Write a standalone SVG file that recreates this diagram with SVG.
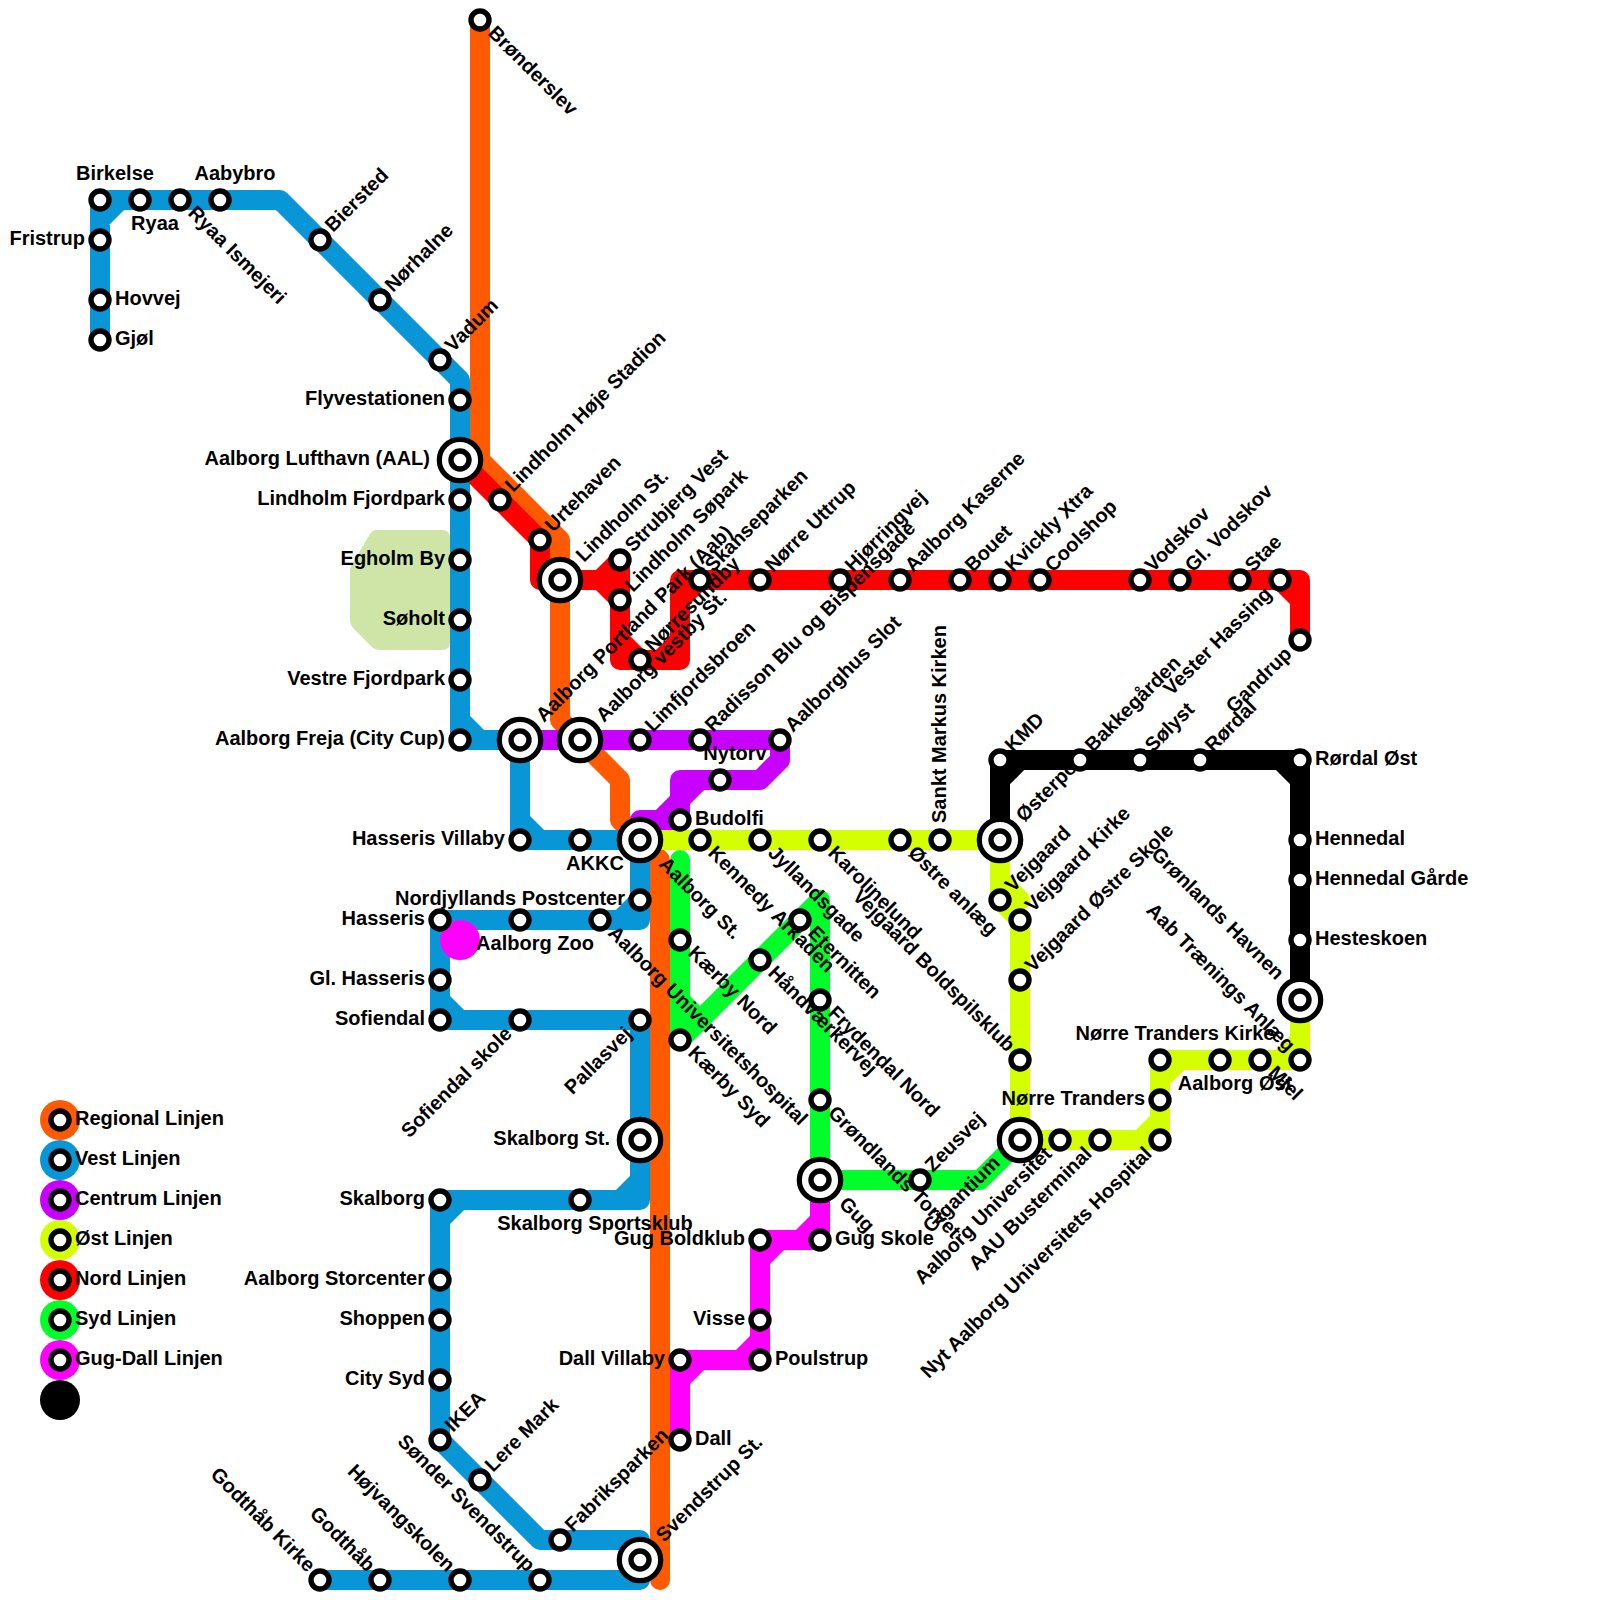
<svg xmlns="http://www.w3.org/2000/svg" width="1600" height="1600" viewBox="0 0 1600 1600">
<style>
text{font-family:"Liberation Sans",Arial,sans-serif;font-weight:bold;font-size:20px;fill:#000}
.e{text-anchor:end}.m{text-anchor:middle}
.s{fill:#fff;stroke:#000;stroke-width:5.4}
.b{fill:#fff;stroke:#000;stroke-width:5.2}
#connectors path{fill:none;stroke-width:20;stroke-linecap:round;stroke-linejoin:round}
</style>
<rect width="1600" height="1600" fill="#fff"/>
<path id="park" fill="#cfe4a7" d="M376 530H442Q450 530 450 538V642Q450 650 442 650H380Q375 650 371 646L354 629Q350 625 350 620V572Q350 566 354 561L370 534Q373 530 376 530Z"/>
<g id="connectors">
<path stroke="#ff5a00" d="M480 20V460L560 540V720L580 740L620 780V820L640 840L660 860V1580"/>
<path stroke="#0896d7" d="M100 340V200H280L460 380V740H520V840H640V920H440V1020H640V1200H440V1440L540 1540H640V1580H320M100 220L120 200M460 720L480 740M520 820L540 840M640 900L620 920M440 1000L460 1020M640 1180L620 1200M460 1200L440 1220"/>
<path stroke="#c800ff" d="M520 740H780V760L760 780H680V820H640V840M700 780L680 800L660 820"/>
<path stroke="#d4ff00" d="M640 840H1000V900L1020 920V1140H1160V1060H1300V1000M1000 880L1020 900M1140 1140L1160 1120M1160 1080L1180 1060M1280 1060L1300 1040"/>
<path stroke="#ff0000" d="M1300 640V580H680V660H620V560L600 580H540V540L460 460M600 580L620 600M1280 580L1300 600M700 580L680 600M680 640L660 660M620 640L640 660"/>
<path stroke="#00ff2a" d="M680 860V1040L820 900V1180H980L1020 1140M680 1000L700 1020"/>
<path stroke="#ff00ff" d="M820 1180V1240H760V1360H680V1440M820 1220L800 1240M780 1240L760 1260M760 1340L740 1360M700 1360L680 1380"/>
<path stroke="#000" d="M1000 840V760H1300V1000M1020 760L1000 780M1280 760L1300 780"/>
</g>
<circle id="dot" cx="460" cy="940" r="20" fill="#ff00ff"/>
<g id="legend">
<g id="lg1"><circle cx="60" cy="1120" r="20" fill="#ff5a00"/><circle class="s" cx="60" cy="1120" r="9"/><text x="75" y="1125">Regional Linjen</text></g>
<g id="lg2"><circle cx="60" cy="1160" r="20" fill="#0896d7"/><circle class="s" cx="60" cy="1160" r="9"/><text x="75" y="1165">Vest Linjen</text></g>
<g id="lg3"><circle cx="60" cy="1200" r="20" fill="#c800ff"/><circle class="s" cx="60" cy="1200" r="9"/><text x="75" y="1205">Centrum Linjen</text></g>
<g id="lg4"><circle cx="60" cy="1240" r="20" fill="#d4ff00"/><circle class="s" cx="60" cy="1240" r="9"/><text x="75" y="1245">Øst Linjen</text></g>
<g id="lg5"><circle cx="60" cy="1280" r="20" fill="#ff0000"/><circle class="s" cx="60" cy="1280" r="9"/><text x="75" y="1285">Nord Linjen</text></g>
<g id="lg6"><circle cx="60" cy="1320" r="20" fill="#00ff2a"/><circle class="s" cx="60" cy="1320" r="9"/><text x="75" y="1325">Syd Linjen</text></g>
<g id="lg7"><circle cx="60" cy="1360" r="20" fill="#ff00ff"/><circle class="s" cx="60" cy="1360" r="9"/><text x="75" y="1365">Gug-Dall Linjen</text></g>
<g id="lg8"><circle cx="60" cy="1400" r="20" fill="#000"/></g>
</g>
<g id="stations">
<g id="n1"><circle class="s" cx="480" cy="20" r="9"/><text x="487" y="34" transform="rotate(45 487 34)">Brønderslev</text></g>
<g id="n2"><circle class="s" cx="100" cy="200" r="9"/><text class="m" x="115" y="180">Birkelse</text></g>
<g id="n3"><circle class="s" cx="140" cy="200" r="9"/><text class="m" x="155" y="230">Ryaa</text></g>
<g id="n4"><circle class="s" cx="180" cy="200" r="9"/><text x="187" y="214" transform="rotate(45 187 214)">Ryaa Ismejeri</text></g>
<g id="n5"><circle class="s" cx="220" cy="200" r="9"/><text class="m" x="235" y="180">Aabybro</text></g>
<g id="n6"><circle class="s" cx="100" cy="240" r="9"/><text class="e" x="85" y="245">Fristrup</text></g>
<g id="n7"><circle class="s" cx="100" cy="300" r="9"/><text x="115" y="305">Hovvej</text></g>
<g id="n8"><circle class="s" cx="100" cy="340" r="9"/><text x="115" y="345">Gjøl</text></g>
<g id="n9"><circle class="s" cx="320" cy="240" r="9"/><text x="333" y="233" transform="rotate(-45 333 233)">Biersted</text></g>
<g id="n10"><circle class="s" cx="380" cy="300" r="9"/><text x="393" y="293" transform="rotate(-45 393 293)">Nørhalne</text></g>
<g id="n11"><circle class="s" cx="440" cy="360" r="9"/><text x="453" y="353" transform="rotate(-45 453 353)">Vadum</text></g>
<g id="n12"><circle class="s" cx="460" cy="400" r="9"/><text class="e" x="445" y="405">Flyvestationen</text></g>
<g id="n13"><circle class="b" cx="460" cy="460" r="20.7"/><circle class="s" cx="460" cy="460" r="9"/><text class="e" x="430" y="465">Aalborg Lufthavn (AAL)</text></g>
<g id="n14"><circle class="s" cx="460" cy="500" r="9"/><text class="e" x="445" y="505">Lindholm Fjordpark</text></g>
<g id="n15"><circle class="s" cx="460" cy="560" r="9"/><text class="e" x="445" y="565">Egholm By</text></g>
<g id="n16"><circle class="s" cx="460" cy="620" r="9"/><text class="e" x="445" y="625">Søholt</text></g>
<g id="n17"><circle class="s" cx="460" cy="680" r="9"/><text class="e" x="445" y="685">Vestre Fjordpark</text></g>
<g id="n18"><circle class="s" cx="460" cy="740" r="9"/><text class="e" x="445" y="745">Aalborg Freja (City Cup)</text></g>
<g id="n19"><circle class="s" cx="500" cy="500" r="9"/><text x="513" y="493" transform="rotate(-45 513 493)">Lindholm Høje Stadion</text></g>
<g id="n20"><circle class="s" cx="540" cy="540" r="9"/><text x="553" y="533" transform="rotate(-45 553 533)">Urtehaven</text></g>
<g id="n21"><circle class="b" cx="560" cy="580" r="20.7"/><circle class="s" cx="560" cy="580" r="9"/><text x="584" y="563" transform="rotate(-45 584 563)">Lindholm St.</text></g>
<g id="n22"><circle class="s" cx="620" cy="560" r="9"/><text x="633" y="553" transform="rotate(-45 633 553)">Strubjerg Vest</text></g>
<g id="n23"><circle class="s" cx="620" cy="600" r="9"/><text x="633" y="593" transform="rotate(-45 633 593)">Lindholm Søpark</text></g>
<g id="n24"><circle class="s" cx="640" cy="660" r="9"/><text x="653" y="653" transform="rotate(-45 653 653)">Nørresundby</text></g>
<g id="n25"><circle class="s" cx="700" cy="580" r="9"/><text x="713" y="573" transform="rotate(-45 713 573)">Skanseparken</text></g>
<g id="n26"><circle class="s" cx="760" cy="580" r="9"/><text x="773" y="573" transform="rotate(-45 773 573)">Nørre Uttrup</text></g>
<g id="n27"><circle class="s" cx="840" cy="580" r="9"/><text x="853" y="573" transform="rotate(-45 853 573)">Hjørringvej</text></g>
<g id="n28"><circle class="s" cx="900" cy="580" r="9"/><text x="913" y="573" transform="rotate(-45 913 573)">Aalborg Kaserne</text></g>
<g id="n29"><circle class="s" cx="960" cy="580" r="9"/><text x="973" y="573" transform="rotate(-45 973 573)">Bouet</text></g>
<g id="n30"><circle class="s" cx="1000" cy="580" r="9"/><text x="1013" y="573" transform="rotate(-45 1013 573)">Kvickly Xtra</text></g>
<g id="n31"><circle class="s" cx="1040" cy="580" r="9"/><text x="1053" y="573" transform="rotate(-45 1053 573)">Coolshop</text></g>
<g id="n32"><circle class="s" cx="1140" cy="580" r="9"/><text x="1153" y="573" transform="rotate(-45 1153 573)">Vodskov</text></g>
<g id="n33"><circle class="s" cx="1180" cy="580" r="9"/><text x="1193" y="573" transform="rotate(-45 1193 573)">Gl. Vodskov</text></g>
<g id="n34"><circle class="s" cx="1240" cy="580" r="9"/><text x="1253" y="573" transform="rotate(-45 1253 573)">Stae</text></g>
<g id="n35"><circle class="s" cx="1280" cy="580" r="9"/><text class="e" x="1273" y="595" transform="rotate(-45 1273 595)">Vester Hassing</text></g>
<g id="n36"><circle class="s" cx="1300" cy="640" r="9"/><text class="e" x="1293" y="655" transform="rotate(-45 1293 655)">Gandrup</text></g>
<g id="n37"><circle class="b" cx="520" cy="740" r="20.7"/><circle class="s" cx="520" cy="740" r="9"/><text x="544" y="723" transform="rotate(-45 544 723)">Aalborg Portland Park (Aab)</text></g>
<g id="n38"><circle class="b" cx="580" cy="740" r="20.7"/><circle class="s" cx="580" cy="740" r="9"/><text x="604" y="723" transform="rotate(-45 604 723)">Aalborg vestby St.</text></g>
<g id="n39"><circle class="s" cx="640" cy="740" r="9"/><text x="653" y="733" transform="rotate(-45 653 733)">Limfjordsbroen</text></g>
<g id="n40"><circle class="s" cx="700" cy="740" r="9"/><text x="713" y="733" transform="rotate(-45 713 733)">Radisson Blu og Bispensgade</text></g>
<g id="n41"><circle class="s" cx="780" cy="740" r="9"/><text x="793" y="733" transform="rotate(-45 793 733)">Aalborghus Slot</text></g>
<g id="n42"><circle class="s" cx="720" cy="780" r="9"/><text class="m" x="735" y="760">Nytorv</text></g>
<g id="n43"><circle class="s" cx="680" cy="820" r="9"/><text x="695" y="825">Budolfi</text></g>
<g id="n44"><circle class="s" cx="520" cy="840" r="9"/><text class="e" x="505" y="845">Hasseris Villaby</text></g>
<g id="n45"><circle class="s" cx="580" cy="840" r="9"/><text class="m" x="595" y="870">AKKC</text></g>
<g id="n46"><circle class="b" cx="640" cy="840" r="20.7"/><circle class="s" cx="640" cy="840" r="9"/><text x="658" y="865" transform="rotate(45 658 865)">Aalborg St.</text></g>
<g id="n47"><circle class="s" cx="700" cy="840" r="9"/><text x="707" y="854" transform="rotate(45 707 854)">Kennedy Arkaden</text></g>
<g id="n48"><circle class="s" cx="760" cy="840" r="9"/><text x="767" y="854" transform="rotate(45 767 854)">Jyllandsgade</text></g>
<g id="n49"><circle class="s" cx="820" cy="840" r="9"/><text x="827" y="854" transform="rotate(45 827 854)">Karolinelund</text></g>
<g id="n50"><circle class="s" cx="900" cy="840" r="9"/><text x="907" y="854" transform="rotate(45 907 854)">Østre anlæg</text></g>
<g id="n51"><circle class="s" cx="940" cy="840" r="9"/><text x="946" y="823" transform="rotate(-90 946 823)">Sankt Markus Kirken</text></g>
<g id="n52"><circle class="b" cx="1000" cy="840" r="20.7"/><circle class="s" cx="1000" cy="840" r="9"/><text x="1024" y="823" transform="rotate(-45 1024 823)">Østerport</text></g>
<g id="n53"><circle class="s" cx="1000" cy="760" r="9"/><text x="1013" y="753" transform="rotate(-45 1013 753)">KMD</text></g>
<g id="n54"><circle class="s" cx="1080" cy="760" r="9"/><text x="1093" y="753" transform="rotate(-45 1093 753)">Bakkegården</text></g>
<g id="n55"><circle class="s" cx="1140" cy="760" r="9"/><text x="1153" y="753" transform="rotate(-45 1153 753)">Sølyst</text></g>
<g id="n56"><circle class="s" cx="1200" cy="760" r="9"/><text x="1213" y="753" transform="rotate(-45 1213 753)">Rørdal</text></g>
<g id="n57"><circle class="s" cx="1300" cy="760" r="9"/><text x="1315" y="765">Rørdal Øst</text></g>
<g id="n58"><circle class="s" cx="1300" cy="840" r="9"/><text x="1315" y="845">Hennedal</text></g>
<g id="n59"><circle class="s" cx="1300" cy="880" r="9"/><text x="1315" y="885">Hennedal Gårde</text></g>
<g id="n60"><circle class="s" cx="1300" cy="940" r="9"/><text x="1315" y="945">Hesteskoen</text></g>
<g id="n61"><circle class="b" cx="1300" cy="1000" r="20.7"/><circle class="s" cx="1300" cy="1000" r="9"/><text class="e" x="1276" y="981" transform="rotate(45 1276 981)">Grønlands Havnen</text></g>
<g id="n62"><circle class="s" cx="640" cy="900" r="9"/><text class="e" x="625" y="905">Nordjyllands Postcenter</text></g>
<g id="n63"><circle class="s" cx="600" cy="920" r="9"/><text x="607" y="934" transform="rotate(45 607 934)">Aalborg Universitetshospital</text></g>
<g id="n64"><circle class="s" cx="520" cy="920" r="9"/><text class="m" x="535" y="950">Aalborg Zoo</text></g>
<g id="n65"><circle class="s" cx="440" cy="920" r="9"/><text class="e" x="425" y="925">Hasseris</text></g>
<g id="n66"><circle class="s" cx="440" cy="980" r="9"/><text class="e" x="425" y="985">Gl. Hasseris</text></g>
<g id="n67"><circle class="s" cx="440" cy="1020" r="9"/><text class="e" x="425" y="1025">Sofiendal</text></g>
<g id="n68"><circle class="s" cx="520" cy="1020" r="9"/><text class="e" x="513" y="1035" transform="rotate(-45 513 1035)">Sofiendal skole</text></g>
<g id="n69"><circle class="s" cx="640" cy="1020" r="9"/><text class="e" x="633" y="1035" transform="rotate(-45 633 1035)">Pallasvej</text></g>
<g id="n70"><circle class="b" cx="640" cy="1140" r="20.7"/><circle class="s" cx="640" cy="1140" r="9"/><text class="e" x="610" y="1145">Skalborg St.</text></g>
<g id="n71"><circle class="s" cx="580" cy="1200" r="9"/><text class="m" x="595" y="1230">Skalborg Sportsklub</text></g>
<g id="n72"><circle class="s" cx="440" cy="1200" r="9"/><text class="e" x="425" y="1205">Skalborg</text></g>
<g id="n73"><circle class="s" cx="440" cy="1280" r="9"/><text class="e" x="425" y="1285">Aalborg Storcenter</text></g>
<g id="n74"><circle class="s" cx="440" cy="1320" r="9"/><text class="e" x="425" y="1325">Shoppen</text></g>
<g id="n75"><circle class="s" cx="440" cy="1380" r="9"/><text class="e" x="425" y="1385">City Syd</text></g>
<g id="n76"><circle class="s" cx="440" cy="1440" r="9"/><text x="453" y="1433" transform="rotate(-45 453 1433)">IKEA</text></g>
<g id="n77"><circle class="s" cx="480" cy="1480" r="9"/><text x="493" y="1473" transform="rotate(-45 493 1473)">Lere Mark</text></g>
<g id="n78"><circle class="s" cx="560" cy="1540" r="9"/><text x="573" y="1533" transform="rotate(-45 573 1533)">Fabriksparken</text></g>
<g id="n79"><circle class="b" cx="640" cy="1560" r="20.7"/><circle class="s" cx="640" cy="1560" r="9"/><text x="664" y="1543" transform="rotate(-45 664 1543)">Svendstrup St.</text></g>
<g id="n80"><circle class="s" cx="540" cy="1580" r="9"/><text class="e" x="527" y="1573" transform="rotate(45 527 1573)">Sønder Svendstrup</text></g>
<g id="n81"><circle class="s" cx="460" cy="1580" r="9"/><text class="e" x="447" y="1573" transform="rotate(45 447 1573)">Højvangskolen</text></g>
<g id="n82"><circle class="s" cx="380" cy="1580" r="9"/><text class="e" x="367" y="1573" transform="rotate(45 367 1573)">Godthåb</text></g>
<g id="n83"><circle class="s" cx="320" cy="1580" r="9"/><text class="e" x="307" y="1573" transform="rotate(45 307 1573)">Godthåb Kirke</text></g>
<g id="n84"><circle class="s" cx="680" cy="940" r="9"/><text x="687" y="954" transform="rotate(45 687 954)">Kærby Nord</text></g>
<g id="n85"><circle class="s" cx="680" cy="1040" r="9"/><text x="687" y="1054" transform="rotate(45 687 1054)">Kærby Syd</text></g>
<g id="n86"><circle class="s" cx="760" cy="960" r="9"/><text x="767" y="974" transform="rotate(45 767 974)">Håndværkervej</text></g>
<g id="n87"><circle class="s" cx="800" cy="920" r="9"/><text x="807" y="934" transform="rotate(45 807 934)">Eternitten</text></g>
<g id="n88"><circle class="s" cx="820" cy="1000" r="9"/><text x="827" y="1014" transform="rotate(45 827 1014)">Frydendal Nord</text></g>
<g id="n89"><circle class="s" cx="820" cy="1100" r="9"/><text x="827" y="1114" transform="rotate(45 827 1114)">Grøndlands Torvet</text></g>
<g id="n90"><circle class="b" cx="820" cy="1180" r="20.7"/><circle class="s" cx="820" cy="1180" r="9"/><text x="838" y="1205" transform="rotate(45 838 1205)">Gug</text></g>
<g id="n91"><circle class="s" cx="920" cy="1180" r="9"/><text x="933" y="1173" transform="rotate(-45 933 1173)">Zeusvej</text></g>
<g id="n92"><circle class="s" cx="820" cy="1240" r="9"/><text x="835" y="1245">Gug Skole</text></g>
<g id="n93"><circle class="s" cx="760" cy="1240" r="9"/><text class="e" x="745" y="1245">Gug Boldklub</text></g>
<g id="n94"><circle class="s" cx="760" cy="1320" r="9"/><text class="e" x="745" y="1325">Visse</text></g>
<g id="n95"><circle class="s" cx="760" cy="1360" r="9"/><text x="775" y="1365">Poulstrup</text></g>
<g id="n96"><circle class="s" cx="680" cy="1360" r="9"/><text class="e" x="665" y="1365">Dall Villaby</text></g>
<g id="n97"><circle class="s" cx="680" cy="1440" r="9"/><text x="695" y="1445">Dall</text></g>
<g id="n98"><circle class="s" cx="1000" cy="900" r="9"/><text x="1013" y="893" transform="rotate(-45 1013 893)">Vejgaard</text></g>
<g id="n99"><circle class="s" cx="1020" cy="920" r="9"/><text x="1033" y="913" transform="rotate(-45 1033 913)">Vejgaard Kirke</text></g>
<g id="n100"><circle class="s" cx="1020" cy="980" r="9"/><text x="1033" y="973" transform="rotate(-45 1033 973)">Vejgaard Østre Skole</text></g>
<g id="n101"><circle class="s" cx="1020" cy="1060" r="9"/><text class="e" x="1007" y="1053" transform="rotate(45 1007 1053)">Vejgaard Boldspilsklub</text></g>
<g id="n102"><circle class="b" cx="1020" cy="1140" r="20.7"/><circle class="s" cx="1020" cy="1140" r="9"/><text class="e" x="1001" y="1164" transform="rotate(-45 1001 1164)">Gigantium</text></g>
<g id="n103"><circle class="s" cx="1060" cy="1140" r="9"/><text class="e" x="1053" y="1155" transform="rotate(-45 1053 1155)">Aalborg Universitet</text></g>
<g id="n104"><circle class="s" cx="1100" cy="1140" r="9"/><text class="e" x="1093" y="1155" transform="rotate(-45 1093 1155)">AAU Busterminal</text></g>
<g id="n105"><circle class="s" cx="1160" cy="1140" r="9"/><text class="e" x="1153" y="1155" transform="rotate(-45 1153 1155)">Nyt Aalborg Universitets Hospital</text></g>
<g id="n106"><circle class="s" cx="1160" cy="1100" r="9"/><text class="e" x="1145" y="1105">Nørre Tranders</text></g>
<g id="n107"><circle class="s" cx="1160" cy="1060" r="9"/><text class="m" x="1175" y="1040">Nørre Tranders Kirke</text></g>
<g id="n108"><circle class="s" cx="1220" cy="1060" r="9"/><text class="m" x="1235" y="1090">Aalborg Øst</text></g>
<g id="n109"><circle class="s" cx="1260" cy="1060" r="9"/><text x="1267" y="1074" transform="rotate(45 1267 1074)">Mjel</text></g>
<g id="n110"><circle class="s" cx="1300" cy="1060" r="9"/><text class="e" x="1287" y="1053" transform="rotate(45 1287 1053)">Aab Trænings Anlæg</text></g>
</g>
</svg>
